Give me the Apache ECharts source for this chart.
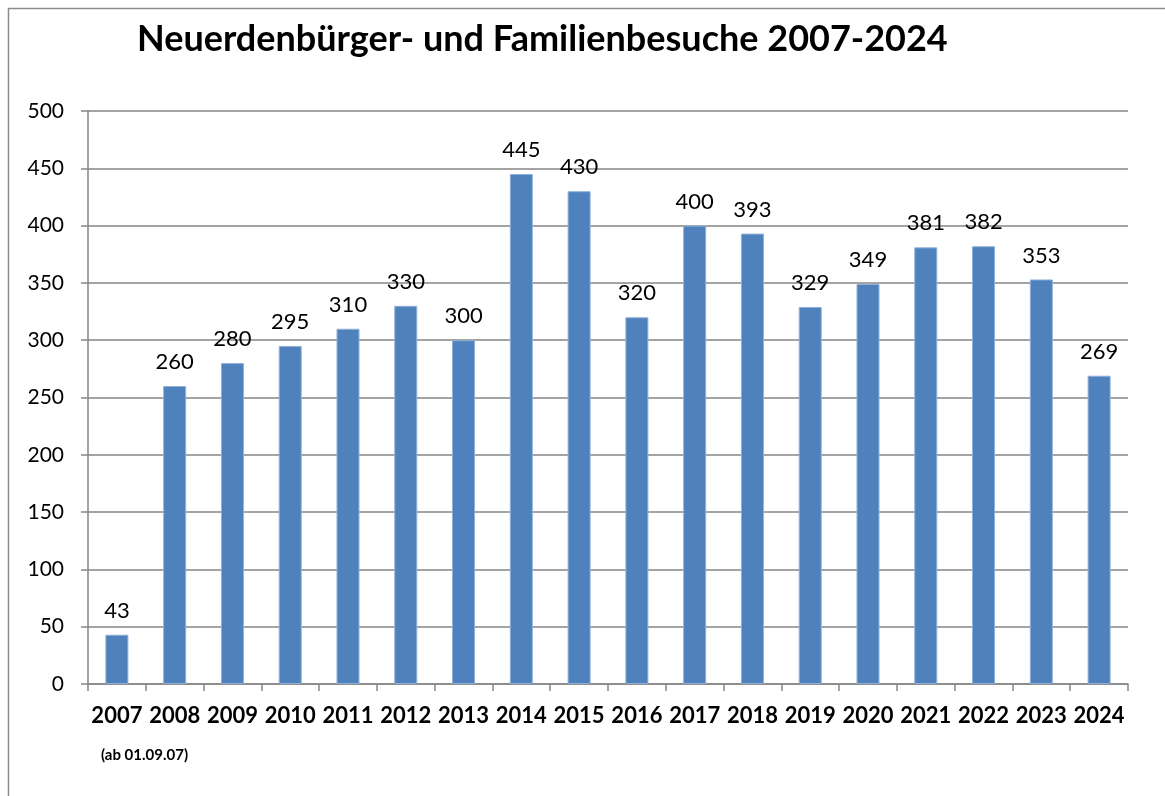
<!DOCTYPE html>
<html>
<head>
<meta charset="utf-8">
<script src="https://cdn.jsdelivr.net/npm/echarts@6/dist/echarts.min.js"></script>
<style>
  html, body { margin: 0; padding: 0; background: #fff; }
  #chart { width: 1165px; height: 796px; }
</style>
</head>
<body>
<div id="chart"></div>
<script>
// values
const years = ['2007', '2008', '2009', '2010', '2011', '2012', '2013', '2014', '2015',
  '2016', '2017', '2018', '2019', '2020', '2021', '2022', '2023', '2024'];
const visits = [43, 260, 280, 295, 310, 330, 300, 445, 430, 320, 400, 393, 329, 349, 381, 382, 353, 269];
const yTicks = [0, 50, 100, 150, 200, 250, 300, 350, 400, 450, 500];

const fontFam = 'Lato, "Open Sans", sans-serif';

const myChart = echarts.init(document.getElementById('chart'));

const option = {
  animation: false,
  backgroundColor: '#fff',
  title: {
    text: 'Neuerdenbürger- und Familienbesuche 2007-2024',
    left: 132,
    top: 16,
    textStyle: {
      fontFamily: fontFam,
      fontSize: 36,
      fontWeight: 'bold',
      color: '#000'
    }
  },
  graphic: [
    {
      type: 'rect',
      shape: { x: 8.5, y: 8.5, width: 1300, height: 900 },
      style: { fill: 'none', stroke: '#8c8c8c', lineWidth: 1.5 },
      silent: true
    },
    {
      type: 'text',
      left: 101,
      top: 748,
      style: {
        text: '(ab 01.09.07)',
        font: 'bold 15px ' + fontFam,
        fill: '#000'
      }
    }
  ],
  grid: {
    left: 88,
    right: 37,
    top: 111,
    bottom: 112
  },
  xAxis: {
    type: 'category',
    data: years,
    boundaryGap: true,
    axisLine: { lineStyle: { color: '#868686', width: 1.5 } },
    axisTick: { show: true, alignWithLabel: false, length: 7, lineStyle: { color: '#868686', width: 1.5 } },
    axisLabel: {
      interval: 0,
      margin: 21,
      fontFamily: fontFam,
      fontSize: 22,
      fontWeight: 'bold',
      color: '#000'
    }
  },
  yAxis: {
    type: 'value',
    min: yTicks[0],
    max: yTicks[yTicks.length - 1],
    interval: 50,
    axisLine: { show: true, lineStyle: { color: '#868686', width: 1.5 } },
    axisTick: { show: true, length: 7, lineStyle: { color: '#868686', width: 1.5 } },
    splitLine: { show: true, lineStyle: { color: '#868686', width: 1.5 } },
    axisLabel: {
      margin: 24,
      fontFamily: fontFam,
      fontSize: 21,
      color: '#000'
    }
  },
  series: [
    {
      name: 'Besuche',
      type: 'bar',
      data: visits,
      barWidth: 23,
      itemStyle: {
        color: '#4F81BD',
        borderColor: '#8FB0D8',
        borderWidth: 1
      },
      label: {
        show: true,
        position: 'top',
        distance: 13,
        fontFamily: fontFam,
        fontSize: 22,
        color: '#000'
      }
    }
  ]
};

myChart.setOption(option);
</script>
</body>
</html>
